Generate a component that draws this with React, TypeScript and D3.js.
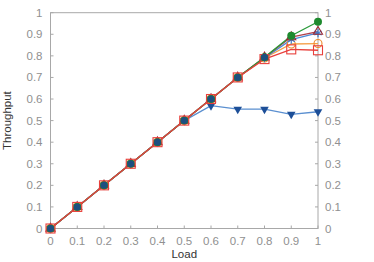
import React, { useEffect, useRef } from 'react';
import * as d3 from 'd3';

const loads = [0, 0.1, 0.2, 0.3, 0.4, 0.5, 0.6, 0.7, 0.8, 0.9, 1];
const tickValues = [0, 0.1, 0.2, 0.3, 0.4, 0.5, 0.6, 0.7, 0.8, 0.9, 1];

const greenCircle = [0, 0.1, 0.2, 0.3, 0.4, 0.5, 0.6, 0.7, 0.793, 0.893, 0.958];
const darkRedTriangle = [0, 0.1, 0.2, 0.3, 0.4, 0.5, 0.6, 0.7, 0.793, 0.887, 0.912];
const blueStar = [0, 0.1, 0.2, 0.3, 0.4, 0.5, 0.6, 0.7, 0.79, 0.875, 0.906];
const orangeCircle = [0, 0.1, 0.2, 0.3, 0.4, 0.5, 0.6, 0.7, 0.79, 0.855, 0.857];
const redSquare = [0, 0.1, 0.2, 0.3, 0.4, 0.5, 0.6, 0.7, 0.785, 0.83, 0.826];
const navyTriangle = [0, 0.1, 0.2, 0.3, 0.4, 0.5, 0.569, 0.553, 0.553, 0.529, 0.541];

type Marker = 'circleFill' | 'circleOpen' | 'triUp' | 'triDownFill' | 'star' | 'square';

const series: { values: number[]; line: string; mark: string; marker: Marker }[] = [
    { values: navyTriangle, line: '#5a8fd0', mark: '#1d4f98', marker: 'triDownFill' },
    { values: orangeCircle, line: '#f5a04a', mark: '#ef8a2c', marker: 'circleOpen' },
    { values: blueStar, line: '#4a8ad8', mark: '#3a7ccc', marker: 'star' },
    { values: darkRedTriangle, line: '#b0404a', mark: '#9a2a36', marker: 'triUp' },
    { values: greenCircle, line: '#2a9a3a', mark: '#1e8a2e', marker: 'circleFill' },
    { values: redSquare, line: '#e8403c', mark: '#e8403c', marker: 'square' },
];

const App: React.FC = () => {
    const svgRef = useRef<SVGSVGElement>(null);
    const width = 374;
    const height = 262;

    useEffect(() => {
        if (!svgRef.current) return;
        const svg = d3.select(svgRef.current);
        svg.selectAll('*').remove();

        const margin = { top: 12.7, right: 56, bottom: 33.5, left: 50.5 };
        const x = d3.scaleLinear().domain([0, 1]).range([margin.left, width - margin.right]);
        const y = d3.scaleLinear().domain([0, 1]).range([height - margin.bottom, margin.top]);
        const font = 'Liberation Sans, Arial, sans-serif';
        const axisColor = '#a8a8a8';
        const labelColor = '#909090';

        // box
        svg.append('rect')
            .attr('x', x(0)).attr('y', y(1))
            .attr('width', x(1) - x(0)).attr('height', y(0) - y(1))
            .attr('fill', 'none').attr('stroke', axisColor).attr('stroke-width', 1);

        // inward ticks
        const tickLen = 3;
        tickValues.forEach(t => {
            svg.append('line').attr('x1', x(0)).attr('x2', x(0) + tickLen).attr('y1', y(t)).attr('y2', y(t)).attr('stroke', axisColor);
            svg.append('line').attr('x1', x(1)).attr('x2', x(1) - tickLen).attr('y1', y(t)).attr('y2', y(t)).attr('stroke', axisColor);
            svg.append('line').attr('x1', x(t)).attr('x2', x(t)).attr('y1', y(0)).attr('y2', y(0) - tickLen).attr('stroke', axisColor);
        });

        const fmt = (d: number) => d3.format('~g')(d);
        svg.append('g').selectAll('text').data(tickValues).enter().append('text')
            .attr('x', x(0) - 8).attr('y', d => y(d)).attr('dy', '0.35em')
            .attr('text-anchor', 'end').attr('fill', labelColor)
            .style('font-family', font).style('font-size', '11.5px').text(fmt);
        svg.append('g').selectAll('text').data(tickValues).enter().append('text')
            .attr('x', x(1) + 7).attr('y', d => y(d)).attr('dy', '0.35em')
            .attr('text-anchor', 'start').attr('fill', labelColor)
            .style('font-family', font).style('font-size', '11.5px').text(fmt);
        svg.append('g').selectAll('text').data(tickValues).enter().append('text')
            .attr('x', d => x(d)).attr('y', y(0) + 16)
            .attr('text-anchor', 'middle').attr('fill', labelColor)
            .style('font-family', font).style('font-size', '11.5px').text(fmt);

        // axis titles
        svg.append('text')
            .attr('x', (x(0) + x(1)) / 2).attr('y', height - 4)
            .attr('text-anchor', 'middle').attr('fill', '#333')
            .style('font-family', font).style('font-size', '11.5px').style('font-weight', 400).text('Load');
        svg.append('text')
            .attr('transform', `translate(11,${(y(0) + y(1)) / 2}) rotate(-90)`)
            .attr('text-anchor', 'middle').attr('fill', '#333')
            .style('font-family', font).style('font-size', '11.5px').style('font-weight', 400).text('Throughput');

        const line = d3.line<number>().x((_, i) => x(loads[i])).y(d => y(d));

        series.forEach(s => {
            svg.append('path').attr('d', line(s.values) || '')
                .attr('fill', 'none').attr('stroke', s.line).attr('stroke-width', 1.3);
        });

        series.forEach(s => {
            const g = svg.append('g');
            s.values.forEach((v, i) => {
                const cx = x(loads[i]);
                const cy = y(v);
                if (s.marker === 'circleFill') {
                    g.append('circle').attr('cx', cx).attr('cy', cy).attr('r', 4).attr('fill', s.mark);
                } else if (s.marker === 'circleOpen') {
                    g.append('circle').attr('cx', cx).attr('cy', cy).attr('r', 4).attr('fill', 'none').attr('stroke', s.mark).attr('stroke-width', 1.1);
                } else if (s.marker === 'triUp') {
                    g.append('path').attr('d', d3.symbol(d3.symbolTriangle, 36)()).attr('transform', `translate(${cx},${cy})`)
                        .attr('fill', 'none').attr('stroke', s.mark).attr('stroke-width', 1.1);
                } else if (s.marker === 'triDownFill') {
                    g.append('path').attr('d', d3.symbol(d3.symbolTriangle, 32)()).attr('transform', `translate(${cx},${cy}) rotate(180)`)
                        .attr('fill', s.mark);
                } else if (s.marker === 'star') {
                    g.append('path').attr('d', d3.symbol(d3.symbolAsterisk, 48)()).attr('transform', `translate(${cx},${cy})`)
                        .attr('fill', 'none').attr('stroke', s.mark).attr('stroke-width', 1.2);
                } else {
                    g.append('rect').attr('x', cx - 4.5).attr('y', cy - 4.5).attr('width', 9).attr('height', 9)
                        .attr('fill', 'none').attr('stroke', s.mark).attr('stroke-width', 1.1);
                }
            });
        });

        // dark overlap marker at coincident points
        loads.forEach((l, i) => {
            if (l <= 0.8) {
                svg.append('circle').attr('cx', x(l)).attr('cy', y(greenCircle[i])).attr('r', 3.5).attr('fill', '#1d4f80');
            }
        });
    }, []);

    return (
        <svg ref={svgRef} width={width} height={height}
            style={{ position: 'absolute', left: 0, top: 0, background: '#fff' }} />
    );
};

export default App;
